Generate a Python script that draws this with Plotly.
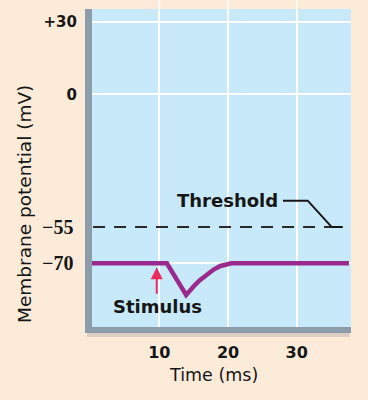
import plotly.graph_objects as go

# ---- data ----
time_ms = [0, 11.1, 13.9, 14.5, 15.2, 15.9, 16.9, 17.9, 18.9, 19.9, 20.5, 37.6]
membrane_mv = [-70, -70, -83.1, -81.0, -78.9, -77.0, -74.6, -72.6, -71.1, -70.2, -70, -70]

threshold_mv = -55
resting_mv = -70
threshold_span_ms = [0.35, 36.7]
leader_ms = [28.0, 31.6, 35.1, 36.7]
leader_mv = [-44.05, -44.05, threshold_mv, threshold_mv]

stimulus_ms = 9.62
stimulus_tip_mv = -71.65

x_ticks = [10, 20, 30]
x_tick_labels = ["10", "20", "30"]
grid_y_ticks = [30, 0, -70]
grid_y_labels = ["+30", "0", ""]
serif_y_ticks = [-55, -70]
serif_y_labels = ["−55", "−70"]

x_range = [0.2, 37.9]
y_range = [-96.4, 35.4]

SANS = "DejaVu Sans"
SERIF = "Liberation Serif"
INK = "#161616"
PEACH = "#FDEBDA"
BLUE = "#C7E9F9"
PURPLE = "#9B2A8F"
FRAME = "#8C9CA8"

fig = go.Figure()
fig.add_trace(go.Scatter(
    x=threshold_span_ms, y=[threshold_mv, threshold_mv], mode="lines",
    line=dict(color="#2a2a2a", width=2, dash="12px,9px"),
    hoverinfo="skip", showlegend=False))
fig.add_trace(go.Scatter(
    x=time_ms, y=membrane_mv, mode="lines",
    line=dict(color=PURPLE, width=4.5),
    hoverinfo="skip", showlegend=False))

shapes = [
    dict(type="path", xref="x", yref="y",
         path="M " + " L ".join(f"{a},{b}" for a, b in zip(leader_ms, leader_mv)),
         line=dict(color=INK, width=2)),
    # soft shadow under the bottom frame bar
    dict(type="rect", xref="paper", yref="paper", x0=-0.02, x1=0.995, y0=-0.0315, y1=-0.019,
         fillcolor="rgba(110,110,110,0.22)", line=dict(width=0), layer="below"),
]
for t in x_ticks:
    shapes.append(dict(type="line", xref="x", yref="paper", x0=t, x1=t, y0=1, y1=1.03,
                       line=dict(color="white", width=1.5), layer="above"))

annotations = [
    dict(x=19.9, y=-43.8, xref="x", yref="y", text="Threshold", showarrow=False,
         font=dict(family=SANS, size=18, color=INK, weight="bold")),
    dict(x=9.74, y=-88.1, xref="x", yref="y", text="Stimulus", showarrow=False,
         font=dict(family=SANS, size=18, color=INK, weight="bold")),
    dict(x=stimulus_ms, y=stimulus_tip_mv, xref="x", yref="y", text="", showarrow=True,
         ax=0, ay=28, arrowcolor="#EE2B5F", arrowwidth=2, arrowhead=2, arrowsize=1.2),
    dict(x=-0.2587, y=0.3868, xref="paper", yref="paper", text="Membrane potential (mV)",
         textangle=-90, showarrow=False, xanchor="center", yanchor="middle",
         font=dict(family=SANS, size=18.5, color=INK)),
    dict(x=0.469, y=-0.151, xref="paper", yref="paper", text="Time (ms)",
         showarrow=False, xanchor="center", yanchor="middle",
         font=dict(family=SANS, size=17.5, color=INK)),
]
# serif-styled tick labels for the threshold and resting levels
for v, lab in zip(serif_y_ticks, serif_y_labels):
    annotations.append(dict(x=-0.066, y=v, xref="paper", yref="y", text=lab,
                            showarrow=False, xanchor="right", yanchor="middle",
                            font=dict(family=SERIF, size=20, color=INK, weight="bold")))

fig.update_layout(
    width=368, height=400,
    margin=dict(l=92, r=17, t=9, b=73, pad=0, autoexpand=False),
    paper_bgcolor=PEACH, plot_bgcolor=BLUE,
    showlegend=False,
    xaxis=dict(range=x_range, tickvals=x_ticks, ticktext=x_tick_labels,
               showgrid=True, gridcolor="white", gridwidth=1.5, zeroline=False,
               showline=True, linecolor=FRAME, linewidth=6, ticks="",
               tickfont=dict(family=SANS, size=16, color=INK, weight="bold"),
               ticklabelstandoff=6, automargin=False, fixedrange=True),
    yaxis=dict(range=y_range, tickvals=grid_y_ticks, ticktext=grid_y_labels,
               showgrid=True, gridcolor="white", gridwidth=1.5, zeroline=False,
               showline=True, linecolor=FRAME, linewidth=7, ticks="",
               tickfont=dict(family=SANS, size=15, color=INK, weight="bold"),
               ticklabelstandoff=5, automargin=False, fixedrange=True),
    shapes=shapes, annotations=annotations,
)

fig.write_html(
    "out.html",
    config={"displayModeBar": False},
    post_script="document.body.style.margin='0';document.body.style.background='" + PEACH + "';",
)
